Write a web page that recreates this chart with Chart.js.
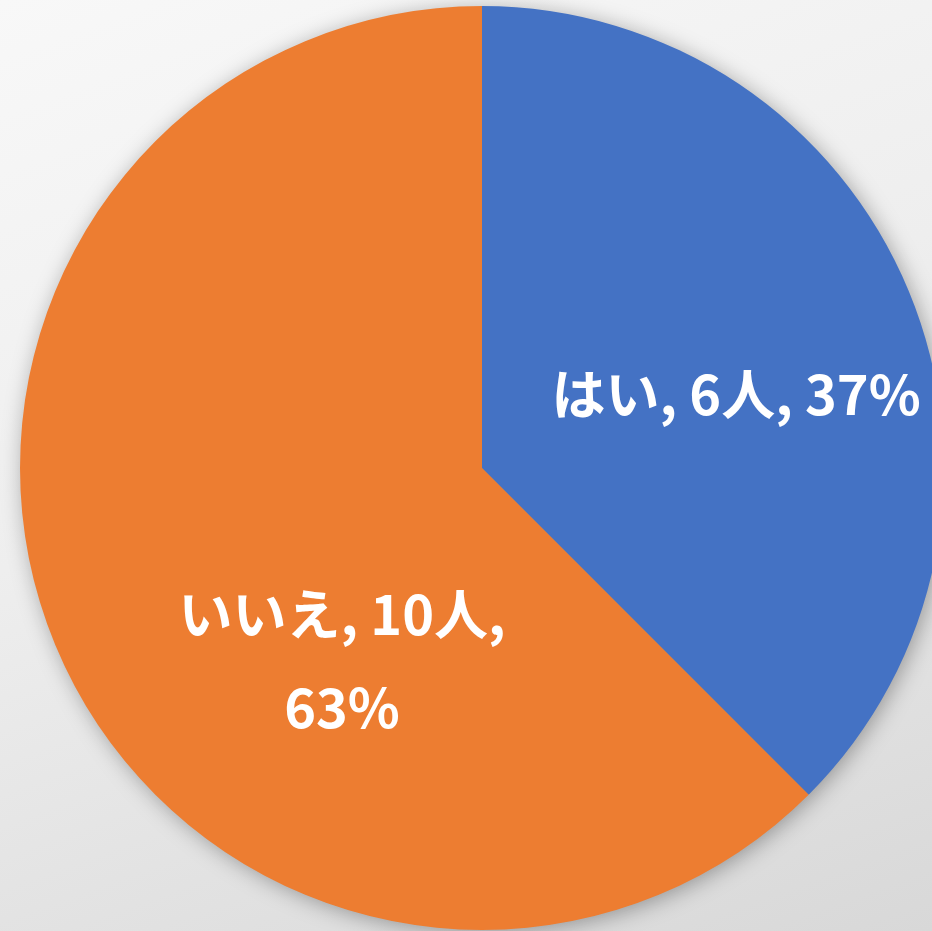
<!DOCTYPE html>
<html>
<head>
<meta charset="utf-8">
<script src="https://cdn.jsdelivr.net/npm/chart.js@4/dist/chart.umd.min.js"></script>
<style>
  html, body { margin: 0; padding: 0; width: 932px; height: 931px; overflow: hidden; }
  body { background: linear-gradient(160deg, #f8f8f8 0%, #eeeeee 45%, #d8d8d8 100%); }
  #wrap { position: absolute; left: 0; top: 0; width: 964px; height: 931px; }
</style>
</head>
<body>
<div id="wrap"><canvas id="c" width="964" height="931"></canvas></div>
<script>
const categories = ['はい', 'いいえ'];
const counts = [6, 10];
const percentLabels = ['37%', '63%'];
const unit = '人';
const colors = ['#4472C4', '#ED7D31'];

// label anchor as fraction of radius from the pie centre, and line breaking
const labelOffsets = [[0.55, -0.16], [-0.303, 0.418]];
const labelLines = [
  [categories[0] + ', ' + counts[0] + unit + ', ' + percentLabels[0]],
  [categories[1] + ', ' + counts[1] + unit + ',', percentLabels[1]]
];

const shadowPlugin = {
  id: 'pieShadow',
  beforeDatasetsDraw(chart) {
    const arc = chart.getDatasetMeta(0).data[0];
    if (!arc) return;
    const ctx = chart.ctx;
    ctx.save();
    ctx.shadowColor = 'rgba(0,0,0,0.35)';
    ctx.shadowBlur = 22;
    ctx.shadowOffsetX = 3;
    ctx.shadowOffsetY = 3;
    ctx.fillStyle = '#888';
    ctx.beginPath();
    ctx.arc(arc.x, arc.y, arc.outerRadius - 1, 0, Math.PI * 2);
    ctx.fill();
    ctx.restore();
  }
};

const labelPlugin = {
  id: 'sliceLabels',
  afterDatasetsDraw(chart) {
    const meta = chart.getDatasetMeta(0);
    const ctx = chart.ctx;
    ctx.save();
    ctx.fillStyle = '#ffffff';
    ctx.font = 'bold 54px "Noto Sans CJK JP", "Noto Sans", sans-serif';
    ctx.textAlign = 'center';
    ctx.textBaseline = 'middle';
    meta.data.forEach((arc, i) => {
      const r = arc.outerRadius;
      const cx = arc.x + labelOffsets[i][0] * r;
      const cy = arc.y + labelOffsets[i][1] * r;
      const lines = labelLines[i];
      const lh = 93;
      lines.forEach((t, j) => {
        ctx.fillText(t, cx, cy + (j - (lines.length - 1) / 2) * lh);
      });
    });
    ctx.restore();
  }
};

new Chart(document.getElementById('c'), {
  type: 'pie',
  data: {
    labels: categories,
    datasets: [{
      data: counts,
      backgroundColor: colors,
      borderWidth: 0,
      clip: false
    }]
  },
  options: {
    responsive: false,
    animation: false,
    layout: { padding: { top: 6, bottom: 1, left: 0, right: 0 } },
    plugins: { legend: { display: false }, tooltip: { enabled: false } }
  },
  plugins: [shadowPlugin, labelPlugin]
});
</script>
</body>
</html>
